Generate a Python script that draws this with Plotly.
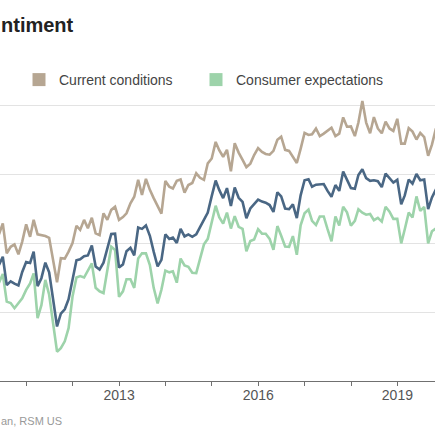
import pandas as pd
import plotly.graph_objects as go

# ---- data (monthly, University of Michigan surveys) ----
start_month = "2010-05"
end_month = "2019-12"

# Consumer sentiment index (middle line)
sentiment = [
    73.6, 76.0, 67.8, 68.9, 68.2, 67.7, 71.6, 74.5,                      # 2010 May-Dec
    74.2, 77.5, 67.5, 69.8, 74.3, 71.5, 63.7, 55.8, 59.5, 60.8, 63.7, 69.9,  # 2011
    75.0, 75.3, 76.2, 76.4, 79.3, 73.2, 72.3, 74.3, 78.3, 82.6, 82.7, 72.9,  # 2012
    73.8, 77.6, 78.6, 76.4, 84.5, 84.1, 85.1, 82.1, 77.5, 73.2, 75.1, 82.5,  # 2013
    81.2, 81.6, 80.0, 84.1, 81.9, 82.5, 81.8, 82.5, 84.6, 86.9, 88.8, 93.6,  # 2014
    98.1, 95.4, 93.0, 95.9, 90.7, 96.1, 93.1, 91.9, 87.2, 90.0, 91.3, 92.6,  # 2015
    92.0, 91.7, 91.0, 89.0, 94.7, 93.5, 90.0, 89.8, 91.2, 87.2, 93.8, 98.2,  # 2016
    98.5, 96.3, 96.9, 97.0, 97.1, 95.1, 93.4, 96.8, 95.1, 100.7, 98.5, 95.9, # 2017
    95.7, 99.7, 101.4, 98.8, 98.0, 98.2, 97.9, 96.2, 100.1, 98.6, 97.5, 98.3, # 2018
    91.2, 93.8, 98.4, 97.2, 100.0, 98.2, 98.4, 89.8, 93.2, 95.5, 96.8, 99.3,  # 2019
]

# Current conditions
current = [
    82.5, 85.7, 77.0, 78.9, 79.6, 76.7, 80.4, 85.4,
    81.8, 86.7, 82.5, 82.3, 82.0, 81.5, 74.6, 68.6, 75.6, 75.5, 77.5, 80.0,
    85.0, 83.8, 86.7, 84.3, 87.3, 82.8, 82.3, 88.6, 86.7, 89.6, 90.5, 86.7,
    87.5, 88.6, 91.5, 93.4, 98.3, 93.9, 98.6, 95.4, 93.0, 90.5, 88.5, 98.0,
    96.3, 95.8, 98.0, 98.4, 94.6, 96.8, 97.4, 100.2, 98.9, 98.3, 103.1, 104.5,
    109.3, 106.9, 105.0, 107.0, 100.8, 108.9, 106.2, 104.1, 102.0, 103.0, 105.5, 107.5,
    106.4, 105.8, 105.6, 106.7, 109.9, 110.8, 107.0, 106.7, 105.1, 103.2, 107.3, 111.9,
    111.3, 111.5, 113.2, 111.0, 111.7, 112.5, 113.4, 111.0, 111.7, 116.4, 113.7, 113.8,
    111.0, 114.9, 121.2, 114.9, 111.8, 116.5, 113.2, 111.8, 115.2, 113.2, 112.5, 116.0,
    108.8, 108.8, 113.3, 112.3, 110.0, 111.9, 110.7, 105.3, 108.5, 113.2, 111.6, 115.5,
]

# Consumer expectations
expectations = [
    68.5, 71.0, 63.0, 62.6, 61.1, 62.5, 64.0, 66.4,
    68.3, 71.2, 58.2, 62.0, 69.3, 65.0, 56.5, 48.5, 49.5, 51.5, 55.3, 64.5,
    70.0, 70.4, 70.0, 72.0, 74.1, 67.0, 66.0, 65.5, 72.5, 78.9, 78.0, 64.4,
    66.0, 69.5, 69.5, 67.0, 75.5, 77.0, 77.0, 73.6, 67.0, 62.5, 66.5, 72.0,
    71.5, 71.8, 68.5, 75.5, 73.5, 73.1, 71.4, 71.3, 75.4, 79.6, 81.2, 86.4,
    90.8, 87.5, 85.6, 88.8, 84.2, 87.8, 84.7, 84.1, 77.6, 80.6, 81.0, 84.0,
    82.7, 82.7, 81.2, 78.0, 84.9, 82.1, 79.0, 78.9, 82.0, 76.6, 85.1, 88.6,
    89.7, 86.4, 85.2, 87.7, 87.7, 84.0, 80.5, 87.7, 85.1, 90.5, 88.9, 85.0,
    86.4, 89.8, 88.8, 88.2, 88.4, 86.6, 87.3, 86.2, 90.5, 89.1, 87.0, 87.0,
    79.9, 84.0, 88.8, 87.4, 93.5, 89.3, 90.5, 79.9, 83.4, 84.2, 87.3, 88.9,
]

series_names = ["Current conditions", "Consumer expectations", "Consumer sentiment"]
title_text = "ntiment"        # visible part of the cropped title
source_text = "an, RSM US"    # visible part of the cropped source line

# ---- styling ----
TAN = "#b6a692"
GREEN = "#9dd3aa"
BLUE = "#4a6784"
FONT = "Liberation Sans, Arial, sans-serif"

months = pd.period_range(start_month, end_month, freq="M")
dates = months.to_timestamp(how="end").normalize()

fig = go.Figure()
fig.add_trace(go.Scatter(x=dates, y=current, mode="lines", name=series_names[0],
                         line=dict(color=TAN, width=2.6), showlegend=False, hoverinfo="skip"))
fig.add_trace(go.Scatter(x=dates, y=expectations, mode="lines", name=series_names[1],
                         line=dict(color=GREEN, width=2.6), showlegend=False, hoverinfo="skip"))
fig.add_trace(go.Scatter(x=dates, y=sentiment, mode="lines", name=series_names[2],
                         line=dict(color=BLUE, width=2.6), showlegend=False, hoverinfo="skip"))

# legend entries with square swatches
fig.add_trace(go.Scatter(x=[None], y=[None], mode="markers", name=series_names[0],
                         marker=dict(symbol="square", size=13, color=TAN), legend="legend"))
fig.add_trace(go.Scatter(x=[None], y=[None], mode="markers", name=series_names[1],
                         marker=dict(symbol="square", size=13, color=GREEN), legend="legend2"))

W = H = 435
ml, mr, mt, mb = 0, 0, 95, 54
plot_h = H - mt - mb

def py(pix):
    return (H - mb - pix) / plot_h

def px(pix):
    return pix / (W - ml - mr)

legend_common = dict(orientation="h", yanchor="middle", y=py(80), xanchor="left",
                     font=dict(family=FONT, size=14, color="#444"),
                     bgcolor="rgba(0,0,0,0)", borderwidth=0)

fig.update_layout(
    width=W, height=H,
    margin=dict(l=ml, r=mr, t=mt, b=mb, autoexpand=False),
    paper_bgcolor="white", plot_bgcolor="white",
    font=dict(family=FONT),
    legend=dict(x=px(19), **legend_common),
    legend2=dict(x=px(196), **legend_common),
    xaxis=dict(
        range=["2010-06-08", "2019-10-24"],
        showgrid=False, zeroline=False,
        showline=True, linecolor="#707070", linewidth=1,
        ticks="outside", ticklen=4, tickcolor="#707070",
        tick0="2013-01-01", dtick="M36", tickformat="%Y",
        ticklabelstandoff=-3,
        tickfont=dict(family=FONT, size=14, color="#555"),
        minor=dict(dtick="M12", tick0="2013-01-01", ticks="outside", ticklen=4, tickcolor="#707070"),
    ),
    yaxis=dict(
        range=[40, 40 + plot_h / 3.45],
        tickvals=[40, 60, 80, 100, 120],
        showticklabels=False, showgrid=True, gridcolor="#e3e3e3", gridwidth=1,
        zeroline=False, showline=False, ticks="",
    ),
    annotations=[
        dict(text="<b>" + title_text + "</b>", xref="paper", yref="paper",
             x=px(-1), y=py(25), xanchor="left", yanchor="middle", showarrow=False,
             font=dict(family=FONT, size=20, color="#222")),
        dict(text=source_text, xref="paper", yref="paper",
             x=px(-1), y=py(421), xanchor="left", yanchor="middle", showarrow=False,
             font=dict(family=FONT, size=11, color="#999")),
    ],
)

fig.write_html("out.html", config={"displayModeBar": False},
               post_script="document.body.style.margin='0';")
